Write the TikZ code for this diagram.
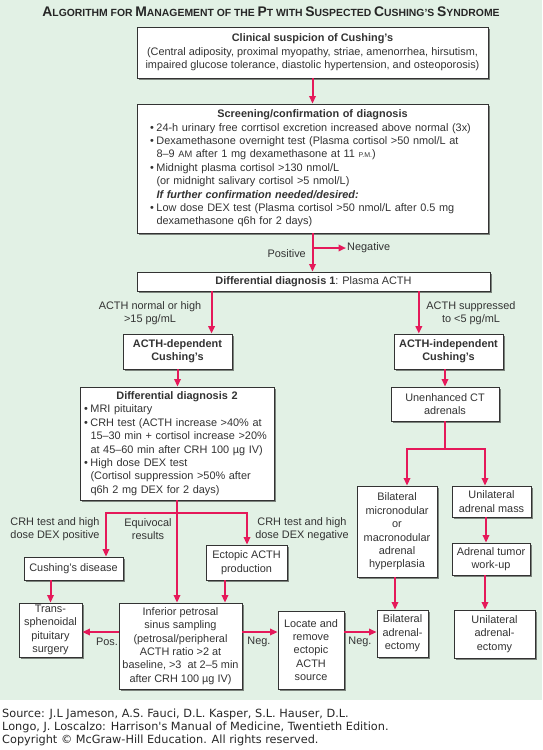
\documentclass[tikz,border=0pt]{standalone}
\usepackage{fontspec}
\setmainfont{Liberation Sans}
\newfontfamily\srcfont{DejaVu Sans}
\usetikzlibrary{arrows.meta,shadows,calc}
\definecolor{bggreen}{HTML}{E2F1E5}
\definecolor{arrred}{HTML}{E5195A}
\definecolor{txtgray}{HTML}{333333}
\newcommand\tsc[2]{{\fontsize{13.9}{15}\selectfont #1}{\fontsize{10.4}{15}\selectfont #2}}
\newcommand\bul{\makebox[6.5pt][l]{\textbullet}}
\newcommand\ind{\hspace*{6.5pt}}
\begin{document}
\begin{tikzpicture}[x=1pt,y=-1pt,
 box/.style={draw=txtgray, line width=0.9pt, fill=white, inner sep=0pt, align=center, text=txtgray,
   font=\fontsize{10.9}{13.4}\selectfont,
   drop shadow={shadow xshift=2pt,shadow yshift=-2pt,opacity=0.45,fill=black}},
 arr/.style={draw=arrred, line width=2pt, -{Triangle[length=7.5pt,width=6.5pt]}},
 lbl/.style={inner sep=0pt, align=center, text=txtgray, font=\fontsize{10.9}{12.5}\selectfont},
 src/.style={inner sep=0pt, anchor=base west, text=black!85, font=\srcfont\fontsize{11.3}{13}\selectfont}]
\useasboundingbox (0,0) rectangle (542,750);
\fill[bggreen] (0,0) rectangle (542,700);

\node[inner sep=0pt, text=black!85, font=\bfseries] (title) at (271,12)
 {\tsc{A}{LGORITHM} \tsc{}{FOR} \tsc{M}{ANAGEMENT} \tsc{}{OF THE} \tsc{P}{T} \tsc{}{WITH} \tsc{S}{USPECTED} \tsc{C}{USHING’S} \tsc{S}{YNDROME}};

\node[box, minimum width=351pt, minimum height=51pt] (b1) at (312.5,52.5)
 {\textbf{Clinical suspicion of Cushing’s}\\(Central adiposity, proximal myopathy, striae, amenorrhea, hirsutism,\\impaired glucose tolerance, diastolic hypertension, and osteoporosis)};

\node[box, minimum width=351pt, minimum height=129pt, text width=325pt, inner xsep=13pt, align=left] (b2) at (312.5,168.5)
 {\makebox[325pt]{\textbf{Screening/confirmation of diagnosis}}\\
 \bul 24-h urinary free corrtisol excretion increased above normal (3x)\\
 \bul Dexamethasone overnight test (Plasma cortisol >50 nmol/L at\\
 \ind 8–9 {\fontsize{9.3}{10}\selectfont AM} after 1 mg dexamethasone at 11 {\fontsize{7}{10}\selectfont P.M.})\\
 \bul Midnight plasma cortisol >130 nmol/L\\
 \ind (or midnight salivary cortisol >5 nmol/L)\\
 \ind\textbf{\textit{If further confirmation needed/desired:}}\\
 \bul Low dose DEX test (Plasma cortisol >50 nmol/L after 0.5 mg\\
 \ind dexamethasone q6h for 2 days)};

\node[box, minimum width=353pt, minimum height=19pt] (b3) at (313.5,281.5)
 {\textbf{Differential diagnosis 1}: Plasma ACTH};

\node[box, minimum width=109pt, minimum height=35pt, font=\bfseries\fontsize{10.9}{13.4}\selectfont] (b4) at (177.5,351.5) {ACTH-dependent\\Cushing’s};
\node[box, minimum width=109pt, minimum height=35pt, font=\bfseries\fontsize{10.9}{13.4}\selectfont] (b5) at (448.5,351.5) {ACTH-independent\\Cushing’s};

\node[box, minimum width=194pt, minimum height=113pt, text width=186pt, inner xsep=4pt, align=left] (b6) at (177,443.5)
 {\makebox[186pt]{\textbf{Differential diagnosis 2}}\\
 \bul MRI pituitary\\
 \bul CRH test (ACTH increase >40\% at\\
 \ind 15–30 min + cortisol increase >20\%\\
 \ind at 45–60 min after CRH 100 µg IV)\\
 \bul High dose DEX test\\
 \ind (Cortisol suppression >50\% after\\
 \ind q6h 2 mg DEX for 2 days)};

\node[box, minimum width=108pt, minimum height=34pt] (b7) at (445,404) {Unenhanced CT\\adrenals};
\node[box, minimum width=80pt, minimum height=91pt] (b8) at (397,531.5) {Bilateral\\micronodular\\or\\macronodular\\adrenal\\hyperplasia};
\node[box, minimum width=79pt, minimum height=31pt] (b9) at (491.5,501.5) {Unilateral\\adrenal mass};
\node[box, minimum width=78pt, minimum height=32pt] (b10) at (491,559) {Adrenal tumor\\work-up};
\node[box, minimum width=51pt, minimum height=47pt] (b11) at (402.5,633.5) {Bilateral\\adrenal-\\ectomy};
\node[box, minimum width=81pt, minimum height=48pt] (b12) at (494.5,634) {Unilateral\\adrenal-\\ectomy};
\node[box, minimum width=66pt, minimum height=78pt] (b13) at (311,650) {Locate and\\remove\\ectopic\\ACTH\\source};
\node[box, minimum width=99pt, minimum height=23pt] (b14) at (73.5,568.5) {Cushing’s disease};
\node[box, minimum width=81pt, minimum height=35pt] (b15) at (246.5,562.5) {Ectopic ACTH\\production};
\node[box, minimum width=63pt, minimum height=54pt] (b16) at (50.5,630) {Trans-\\sphenoidal\\pituitary\\surgery};
\node[box, minimum width=123pt, minimum height=86pt] (b17) at (180.5,646) {Inferior petrosal\\sinus sampling\\(petrosal/peripheral\\ACTH ratio >2 at\\baseline, >3\ \ at 2–5 min\\after CRH 100 µg IV)};

% labels
\node[lbl, anchor=east] (lpos) at (306,254) {Positive};
\node[lbl, anchor=west] (lneg) at (347,248) {Negative};
\node[lbl] (lnorm) at (150,313) {ACTH normal or high\\>15 pg/mL};
\node[lbl] (lsupp) at (471,313) {ACTH suppressed\\to <5 pg/mL};
\node[lbl] (lcrhp) at (55,529) {CRH test and high\\dose DEX positive};
\node[lbl] (lequi) at (148,529) {Equivocal\\results};
\node[lbl] (lcrhn) at (302,529) {CRH test and high\\dose DEX negative};
\node[lbl] (lp2) at (107,642) {Pos.};
\node[lbl] (ln2) at (259,642) {Neg.};
\node[lbl] (ln3) at (360,642) {Neg.};

% coordinates
\coordinate (negend) at (346,248);
\coordinate (a4) at ($(b4.north west)!0.81!(b4.north east)$);
\coordinate (a5) at ($(b5.north west)!0.23!(b5.north east)$);
\coordinate (j7) at (445,449);
\coordinate (a8) at ($(b8.north)+(10,0)$);
\coordinate (a9) at ($(b9.north)+(-6.5,0)$);
\coordinate (b6l) at (106,513);
\coordinate (b6r) at (247,513);
\coordinate (rowy) at (0,632);
\coordinate (c8) at (395,0);
\coordinate (c9) at (486,0);
\coordinate (c10) at (485,0);
\coordinate (c15) at (225,0);

% connectors
\draw[arr] (b1.south) -- (b2.north);
\draw[arr] (b2.south) -- (b2.south |- b3.north);
\draw[arr] (b2.south |- negend) -- (negend);
\draw[arr] (b3.south -| a4) -- (a4);
\draw[arr] (b3.south -| a5) -- (a5);
\draw[arr] (b4.south) -- (b4.south |- b6.north);
\draw[arr] (b5.south -| b7.north) -- (b7.north);
\draw[arr] (b7.south) -- (j7) -| (a8);
\draw[arr] (j7) -| (a9);
\draw[arr] (b6.south) -- (b6.south |- b17.north);
\draw[arr] (b6l -| b6.south) -- (b6l) -- (b6l |- b14.north);
\draw[arr] (b6l -| b6.south) -- (b6r) -- (b6r |- b15.north);
\draw[arr] (b14.south -| b16.north) -- (b16.north);
\draw[arr] (b15.south -| c15) -- (b17.north -| c15);
\draw[arr] (b17.west |- rowy) -- (b16.east |- rowy);
\draw[arr] (b17.east |- rowy) -- (b13.west |- rowy);
\draw[arr] (b13.east |- rowy) -- (b11.west |- rowy);
\draw[arr] (b8.south -| c8) -- (b11.north -| c8);
\draw[arr] (b9.south -| c9) -- (b10.north -| c9);
\draw[arr] (b10.south -| c10) -- (b12.north -| c10);

% source
\node[src] (s1) at (2,717) {Source: J.L Jameson, A.S. Fauci, D.L. Kasper, S.L. Hauser, D.L.};
\node[src] (s2) at (2,730) {Longo, J. Loscalzo: Harrison's Manual of Medicine, Twentieth Edition.};
\node[src] (s3) at (2,743) {Copyright © McGraw-Hill Education. All rights reserved.};
\end{tikzpicture}
\end{document}
